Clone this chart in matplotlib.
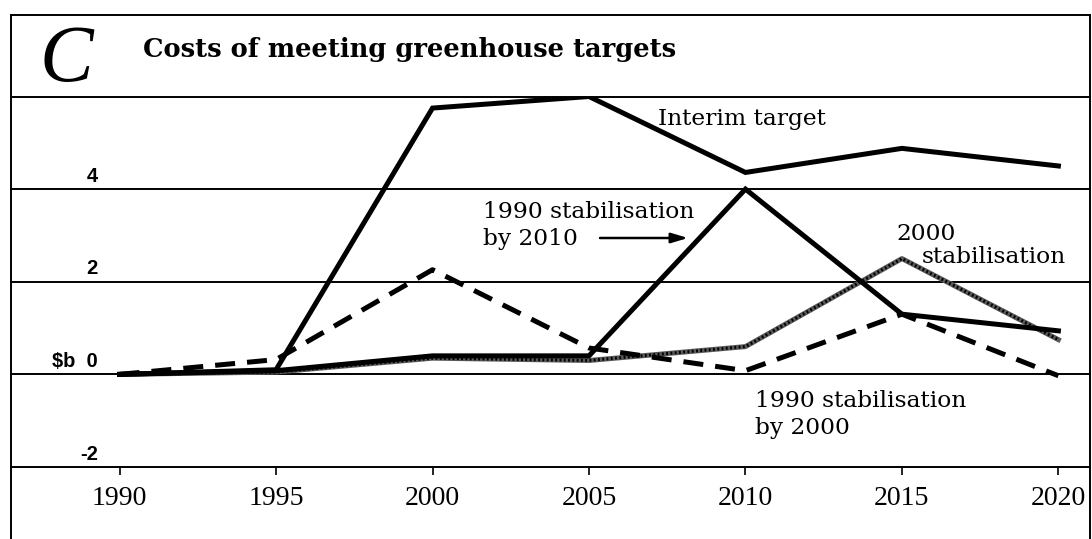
import matplotlib
matplotlib.use("Agg")
import matplotlib.pyplot as plt
from matplotlib.lines import Line2D

# data, $b
years = [1990, 1995, 2000, 2005, 2010, 2015, 2020]
interim = [0.0, 0.1, 5.75, 6.0, 4.36, 4.88, 4.5]
stab_1990_by_2010 = [0.0, 0.08, 0.4, 0.4, 4.0, 1.3, 0.94]
stab_1990_by_2000 = [0.0, 0.32, 2.26, 0.57, 0.08, 1.3, -0.03]
stab_2000 = [0.0, 0.05, 0.35, 0.3, 0.6, 2.5, 0.75]

ytick_values = [4, 2, 0, -2]
ytick_labels = ["4", "2", r"\$b  0", "-2"]
grid_values = [6, 4, 2, 0, -2]

W, H = 1092, 539
SERIF = "Liberation Serif"
WIDE_SERIF = "DejaVu Serif"
SANS = "Liberation Sans"


def fxy(px, py):
    """pixel (from top-left) -> figure fraction"""
    return px / W, 1 - py / H


fig = plt.figure(figsize=(W / 100, H / 100), dpi=100)
ax_l, ax_r, ax_t, ax_b = 11, 1090, 96.5, 467
ax = fig.add_axes([ax_l / W, 1 - ax_b / H, (ax_r - ax_l) / W, (ax_b - ax_t) / H])
ax.set_xlim(1986.53, 2021.01)
ax.set_ylim(-2, 6)
for s in ax.spines.values():
    s.set_visible(False)

for g in grid_values:
    ax.axhline(g, color="black", lw=1.4, zorder=1, clip_on=False)

lw = 3.6
ax.plot(years, interim, color="black", lw=lw, solid_joinstyle="miter", zorder=4)
ax.plot(years, stab_1990_by_2010, color="black", lw=lw, solid_joinstyle="miter", zorder=4)
ax.plot(years, stab_2000, color="0.35", lw=lw, zorder=3)
ax.plot(years, stab_2000, color="black", lw=2.2, ls=(0, (0.6, 0.8)), zorder=3)
ax.plot(years, stab_1990_by_2000, color="black", lw=lw, dashes=(4, 2.4),
        dash_capstyle="butt", zorder=3)

ax.set_xticks(years)
ax.set_xticklabels([str(y) for y in years], fontfamily=SERIF, fontsize=20)
ax.tick_params(axis="x", direction="out", length=6, width=1.2, pad=8, color="black")
ax.set_yticks([])

# y labels sit above their gridlines
for v, lab in zip(ytick_values, ytick_labels):
    ax.text(1989.31, v + 0.16, lab, ha="right", va="baseline", fontfamily=SANS,
            fontweight="bold", fontsize=14.5)

# outer frame and title band
frame = [((11, 15), (1090, 15)), ((11, 15), (11, 539)), ((1090, 15), (1090, 539))]
for (x0, y0), (x1, y1) in frame:
    a, b = fxy(x0, y0)
    c, d = fxy(x1, y1)
    fig.add_artist(Line2D([a, c], [b, d], color="black", lw=1.4))

fig.text(*fxy(40, 81), "C", fontfamily=SERIF, style="italic", fontsize=58,
         va="baseline", ha="left")
fig.text(*fxy(143, 57), "Costs of meeting greenhouse targets", fontfamily=WIDE_SERIF,
         fontweight="bold", fontsize=18.5, va="baseline", ha="left")

# series labels
fs = 16.8
fig.text(*fxy(658, 125), "Interim target", fontfamily=WIDE_SERIF, fontsize=fs, va="baseline")
fig.text(*fxy(483, 218), "1990 stabilisation", fontfamily=WIDE_SERIF, fontsize=fs, va="baseline")
fig.text(*fxy(483, 245), "by 2010", fontfamily=WIDE_SERIF, fontsize=fs, va="baseline")
fig.text(*fxy(896, 240), "2000", fontfamily=WIDE_SERIF, fontsize=fs, va="baseline")
fig.text(*fxy(922, 263), "stabilisation", fontfamily=WIDE_SERIF, fontsize=fs, va="baseline")
fig.text(*fxy(755, 407), "1990 stabilisation", fontfamily=WIDE_SERIF, fontsize=fs, va="baseline")
fig.text(*fxy(755, 434), "by 2000", fontfamily=WIDE_SERIF, fontsize=fs, va="baseline")

fig.add_artist(plt.Annotation("", xy=fxy(688, 238), xytext=fxy(600, 238),
                              xycoords="figure fraction", textcoords="figure fraction",
                              arrowprops=dict(arrowstyle="-|>,head_length=1.0,head_width=0.3",
                                              color="black", lw=1.8, shrinkA=0, shrinkB=0)))

fig.savefig("out.png", dpi=100, facecolor="white")
